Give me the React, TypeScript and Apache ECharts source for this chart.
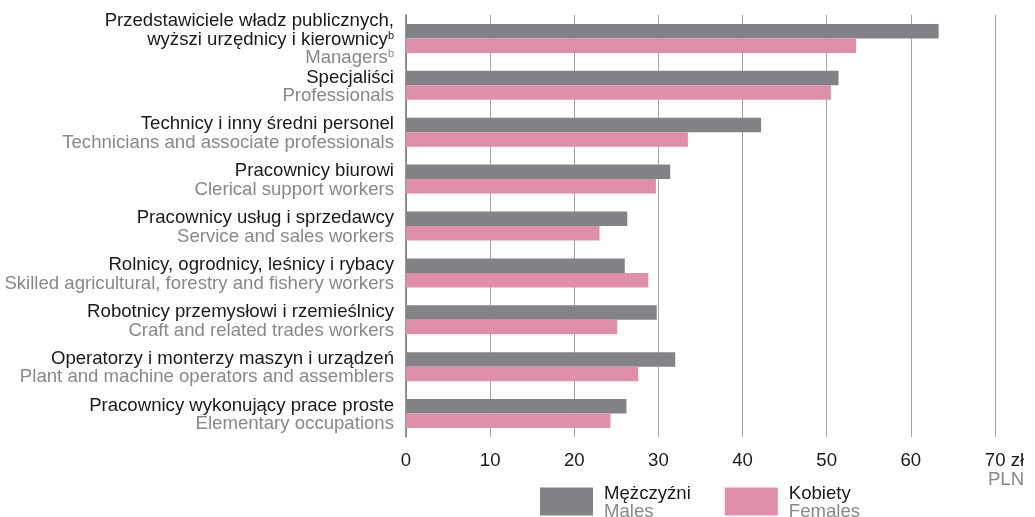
import React, { useEffect, useRef } from "react";
import * as echarts from "echarts";

const plLabels = [
  "Przedstawiciele władz publicznych,\nwyższi urzędnicy i kierownicy",
  "Specjaliści",
  "Technicy i inny średni personel",
  "Pracownicy biurowi",
  "Pracownicy usług i sprzedawcy",
  "Rolnicy, ogrodnicy, leśnicy i rybacy",
  "Robotnicy przemysłowi i rzemieślnicy",
  "Operatorzy i monterzy maszyn i urządzeń",
  "Pracownicy wykonujący prace proste",
];
const enLabels = [
  "Managers",
  "Professionals",
  "Technicians and associate professionals",
  "Clerical support workers",
  "Service and sales workers",
  "Skilled agricultural, forestry and fishery workers",
  "Craft and related trades workers",
  "Plant and machine operators and assemblers",
  "Elementary occupations",
];
const males = [63.3, 51.4, 42.2, 31.4, 26.3, 26.0, 29.8, 32.0, 26.2];
const females = [53.5, 50.5, 33.5, 29.7, 23.0, 28.8, 25.1, 27.6, 24.3];
const xTicks = [0, 10, 20, 30, 40, 50, 60, 70];

const FONT = "'Liberation Sans', Arial, sans-serif";
const FS = 18.6;
const LH = 18.5;
const GREY = "#838387";
const PINK = "#df8fa9";
const BLACK = "#1a1a1a";
const GRAYTXT = "#888888";

export default function App() {
  const ref = useRef<HTMLDivElement>(null);
  useEffect(() => {
    if (!ref.current) return;
    const chart = echarts.init(ref.current, null, { renderer: "svg" });
    const cats = plLabels.map((_, i) => String(i));
    chart.setOption({
      animation: false,
      textStyle: { fontFamily: FONT },
      grid: { left: 406, right: 40, top: 15, bottom: 80, containLabel: false },
      xAxis: {
        type: "value",
        min: xTicks[0],
        max: xTicks[xTicks.length - 1],
        interval: 10,
        axisLine: { show: false },
        axisTick: { show: false },
        splitLine: { show: true, lineStyle: { color: "#a3a3a3", width: 1 } },
        axisLabel: {
          margin: 13,
          fontSize: FS,
          color: BLACK,
          fontFamily: FONT,
          formatter: (v: number) =>
            v === 70 ? "{p|}{a|70 zł}\n{b|PLN}" : "{a|" + v + "}",
          rich: {
            p: { width: 19, fontSize: FS },
            a: { fontSize: FS, color: BLACK, fontFamily: FONT, lineHeight: LH },
            b: { fontSize: FS, color: GRAYTXT, fontFamily: FONT, lineHeight: LH, align: "right" },
          },
        },
      },
      yAxis: {
        type: "category",
        inverse: true,
        data: cats,
        axisLine: { show: true, lineStyle: { color: "#777777", width: 1.5 } },
        axisTick: { show: false },
        splitLine: { show: false },
        axisLabel: {
          margin: 12,
          align: "right",
          interval: 0,
          formatter: (v: string) => {
            const i = Number(v);
            const pl = plLabels[i].split("\n");
            const lines = pl.map((l, k) =>
              i === 0 && k === pl.length - 1 ? "{a|" + l + "}{s|b}" : "{a|" + l + "}"
            );
            lines.push(i === 0 ? "{b|" + enLabels[i] + "}{t|b}" : "{b|" + enLabels[i] + "}");
            return lines.join("\n");
          },
          rich: {
            a: { fontSize: FS, color: BLACK, fontFamily: FONT, lineHeight: LH },
            b: { fontSize: FS, color: GRAYTXT, fontFamily: FONT, lineHeight: LH },
            s: { fontSize: 11, color: BLACK, fontFamily: FONT, lineHeight: LH, verticalAlign: "top", padding: [0, 0, 7, 0] },
            t: { fontSize: 11, color: GRAYTXT, fontFamily: FONT, lineHeight: LH, verticalAlign: "top", padding: [0, 0, 7, 0] },
          },
        },
      },
      legend: {
        left: 540,
        top: 483,
        padding: 0,
        itemWidth: 53,
        itemHeight: 28,
        itemGap: 34,
        icon: "rect",
        data: ["Mężczyźni", "Kobiety"],
        formatter: (name: string) =>
          name === "Mężczyźni" ? "{a|Mężczyźni}\n{b|Males}" : "{a|Kobiety}\n{b|Females}",
        textStyle: {
          padding: [0, 0, 0, 6],
          rich: {
            a: { fontSize: FS, color: BLACK, fontFamily: FONT, lineHeight: 18 },
            b: { fontSize: FS, color: GRAYTXT, fontFamily: FONT, lineHeight: 18 },
          },
        },
        itemStyle: { borderWidth: 0 },
      },
      series: [
        {
          name: "Mężczyźni",
          type: "bar",
          data: males,
          barWidth: 14.5,
          barGap: "0%",
          itemStyle: { color: GREY },
        },
        {
          name: "Kobiety",
          type: "bar",
          data: females,
          barWidth: 14.5,
          barGap: "0%",
          itemStyle: { color: PINK },
        },
      ],
    });
    return () => chart.dispose();
  }, []);
  return (
    <div
      ref={ref}
      style={{ position: "fixed", left: 0, top: 0, width: 1035, height: 517 }}
    />
  );
}
